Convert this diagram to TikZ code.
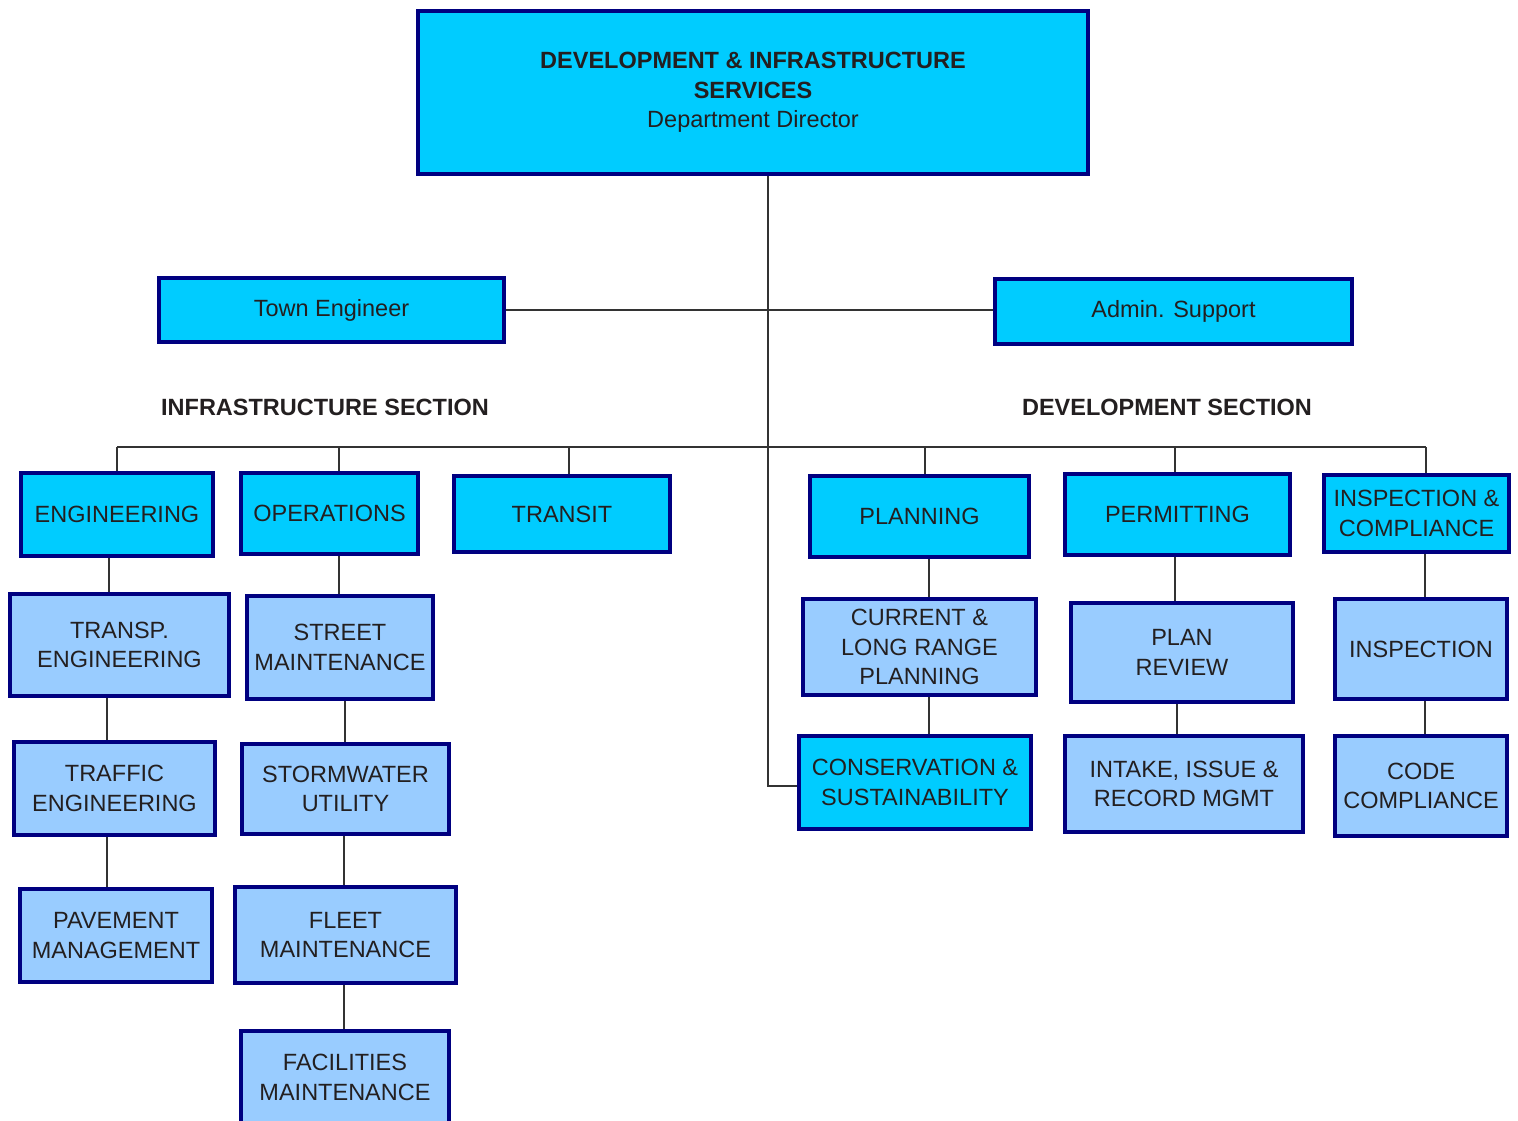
\documentclass[tikz,border=0pt]{standalone}
\usepackage{fontspec}
\setmainfont{Liberation Sans}
\definecolor{boxcyan}{HTML}{00CCFF}
\definecolor{boxlight}{HTML}{99CCFF}
\definecolor{boxedge}{HTML}{000080}
\definecolor{ink}{HTML}{231F20}
\definecolor{wirecol}{HTML}{333333}
\begin{document}
\begin{tikzpicture}[x=1pt,y=-1pt,font=\fontsize{23.5}{29.5}\selectfont,text=ink,
		unit/.style={draw=boxedge,line width=4.5pt,fill=boxcyan,align=center,inner sep=0pt},
		sub/.style={unit,fill=boxlight},
		wire/.style={draw=wirecol,line width=1.5pt}]
			\useasboundingbox (0,0) rectangle (1518,1120);
			% head and staff
			\node[unit,minimum width=670,minimum height=163] (dir) at (753,92.5) {\textbf{DEVELOPMENT \& INFRASTRUCTURE}\\\textbf{SERVICES}\\Department Director};
			\node[unit,minimum width=345,minimum height=64] (town) at (331.5,310) {Town Engineer};
			\node[unit,minimum width=357,minimum height=65] (admin) at (1173.5,311.5) {Admin. Support};
			\node (infra) at (325,407) {\textbf{INFRASTRUCTURE SECTION}};
			\node (devel) at (1167,407) {\textbf{DEVELOPMENT SECTION}};
			% divisions
			\node[unit,minimum width=192,minimum height=83] (eng) at (117,514.5) {ENGINEERING};
			\node[unit,minimum width=177,minimum height=81] (ops) at (329.5,513.5) {OPERATIONS};
			\node[unit,minimum width=216,minimum height=76] (transit) at (562,514) {TRANSIT};
			\node[unit,minimum width=219,minimum height=81] (plan) at (919.5,516.5) {PLANNING};
			\node[unit,minimum width=225,minimum height=81] (permit) at (1177.5,514.5) {PERMITTING};
			\node[unit,minimum width=185,minimum height=77] (insco) at (1416.5,513.5) {INSPECTION \&\\COMPLIANCE};
			% infrastructure units
			\node[sub,minimum width=219,minimum height=102] (transp) at (119.5,645) {TRANSP.\\ENGINEERING};
			\node[sub,minimum width=201,minimum height=93] (traffic) at (114.5,788.5) {TRAFFIC\\ENGINEERING};
			\node[sub,minimum width=192,minimum height=93] (pave) at (116,935.5) {PAVEMENT\\MANAGEMENT};
			\node[sub,minimum width=186,minimum height=103] (street) at (340,647.5) {STREET\\MAINTENANCE};
			\node[sub,minimum width=207,minimum height=90] (storm) at (345.5,789) {STORMWATER\\UTILITY};
			\node[sub,minimum width=221,minimum height=96] (fleet) at (345.5,935) {FLEET\\MAINTENANCE};
			\node[sub,minimum width=208,minimum height=93] (facil) at (345,1077.5) {FACILITIES\\MAINTENANCE};
			% development units
			\node[sub,minimum width=233,minimum height=96] (current) at (919.5,647) {CURRENT \&\\LONG RANGE\\PLANNING};
			\node[unit,minimum width=232,minimum height=93] (conserv) at (915,782.5) {CONSERVATION \&\\SUSTAINABILITY};
			\node[sub,minimum width=222,minimum height=99] (review) at (1182,652.5) {PLAN\\REVIEW};
			\node[sub,minimum width=238,minimum height=96] (intake) at (1184,784) {INTAKE, ISSUE \&\\RECORD MGMT};
			\node[sub,minimum width=172,minimum height=100] (insp) at (1421,649) {INSPECTION};
			\node[sub,minimum width=172,minimum height=100] (code) at (1421,786) {CODE\\COMPLIANCE};
			% trunk and bus
			\coordinate (bend) at (768,786);
			\coordinate (busL) at (117,447);
			\coordinate (busR) at (1426,447);
			\draw[wire] (dir.south -| bend) -- (bend) -- (bend -| conserv.west);
			\draw[wire] (town.east) -- (town.east -| admin.west);
			\draw[wire] (busL) -- (busR);
			\draw[wire] (eng.north) -- (eng.north |- busL);
			\draw[wire] ([xshift=9.5pt]ops.north) -- ([xshift=9.5pt]ops.north |- busL);
			\draw[wire] ([xshift=7pt]transit.north) -- ([xshift=7pt]transit.north |- busL);
			\draw[wire] ([xshift=5.5pt]plan.north) -- ([xshift=5.5pt]plan.north |- busL);
			\draw[wire] ([xshift=-2.5pt]permit.north) -- ([xshift=-2.5pt]permit.north |- busL);
			\draw[wire] ([xshift=9.5pt]insco.north) -- ([xshift=9.5pt]insco.north |- busL);
			% chains
			\draw[wire] ([xshift=-8pt]eng.south) -- ([xshift=-8pt]eng.south |- transp.north);
			\draw[wire] ([xshift=-12.5pt]transp.south) -- ([xshift=-12.5pt]transp.south |- traffic.north);
			\draw[wire] ([xshift=-7.5pt]traffic.south) -- ([xshift=-7.5pt]traffic.south |- pave.north);
			\draw[wire] ([xshift=9.5pt]ops.south) -- ([xshift=9.5pt]ops.south |- street.north);
			\draw[wire] ([xshift=5pt]street.south) -- ([xshift=5pt]street.south |- storm.north);
			\draw[wire] ([xshift=-1.5pt]storm.south) -- ([xshift=-1.5pt]storm.south |- fleet.north);
			\draw[wire] ([xshift=-1.5pt]fleet.south) -- ([xshift=-1.5pt]fleet.south |- facil.north);
			\draw[wire] ([xshift=9.5pt]plan.south) -- ([xshift=9.5pt]plan.south |- current.north);
			\draw[wire] ([xshift=9.5pt]current.south) -- ([xshift=9.5pt]current.south |- conserv.north);
			\draw[wire] ([xshift=-2.5pt]permit.south) -- ([xshift=-2.5pt]permit.south |- review.north);
			\draw[wire] ([xshift=-5pt]review.south) -- ([xshift=-5pt]review.south |- intake.north);
			\draw[wire] ([xshift=8.5pt]insco.south) -- ([xshift=8.5pt]insco.south |- insp.north);
			\draw[wire] ([xshift=4pt]insp.south) -- ([xshift=4pt]insp.south |- code.north);
		\end{tikzpicture}
\end{document}
